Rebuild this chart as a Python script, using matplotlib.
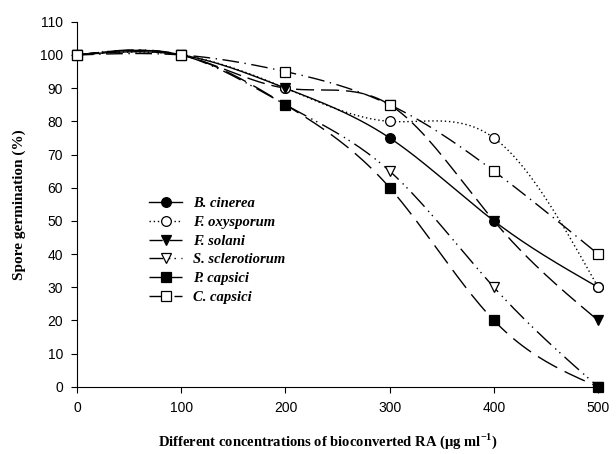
import numpy as np
import matplotlib
matplotlib.use("Agg")
import matplotlib.pyplot as plt

plt.rcParams["mathtext.fontset"] = "custom"
plt.rcParams["mathtext.rm"] = "Liberation Serif:bold"
plt.rcParams["mathtext.bf"] = "Liberation Serif:bold"

conc = [0, 100, 200, 300, 400, 500]
b_cinerea = [100, 100, 90, 75, 50, 30]
f_oxysporum = [100, 100, 90, 80, 75, 30]
f_solani = [100, 100, 90, 85, 50, 20]
s_sclerotiorum = [100, 100, 85, 65, 30, 0]
p_capsici = [100, 100, 85, 60, 20, 0]
c_capsici = [100, 100, 95, 85, 65, 40]

names = ["B. cinerea", "F. oxysporum", "F. solani", "S. sclerotiorum", "P. capsici", "C. capsici"]


def spline(x, y, n=200):
    # natural cubic spline, just for drawing the smooth line between markers
    x = np.asarray(x, float)
    y = np.asarray(y, float)
    k = len(x)
    h = np.diff(x)
    A = np.zeros((k, k))
    r = np.zeros(k)
    A[0, 0] = A[-1, -1] = 1
    for i in range(1, k - 1):
        A[i, i - 1] = h[i - 1]
        A[i, i] = 2 * (h[i - 1] + h[i])
        A[i, i + 1] = h[i]
        r[i] = 6 * ((y[i + 1] - y[i]) / h[i] - (y[i] - y[i - 1]) / h[i - 1])
    m = np.linalg.solve(A, r)
    xs = np.linspace(x[0], x[-1], n)
    idx = np.clip(np.searchsorted(x, xs) - 1, 0, k - 2)
    x0, x1 = x[idx], x[idx + 1]
    hh = x1 - x0
    a = (x1 - xs) / hh
    b = (xs - x0) / hh
    ys = a * y[idx] + b * y[idx + 1] + ((a**3 - a) * m[idx] + (b**3 - b) * m[idx + 1]) * hh**2 / 6
    return xs, ys


series = [b_cinerea, f_oxysporum, f_solani, s_sclerotiorum, p_capsici, c_capsici]
# ls for the curves, lls for the short legend handles
styles = [
    dict(marker="o", mfc="black", ls="-", lls="-"),
    dict(marker="o", mfc="white", ls=(0, (1, 2)), lls=(0, (1, 2))),
    dict(marker="v", mfc="black", ls=(0, (13, 5)), lls=(3.5, (13, 5))),
    dict(marker="v", mfc="white", ls=(0, (14, 4, 1, 3, 1, 4)), lls=(4, (14, 4, 1, 3, 1, 4))),
    dict(marker="s", mfc="black", ls=(0, (16, 6)), lls=(7, (16, 6))),
    dict(marker="s", mfc="white", ls=(0, (12, 4, 1, 4)), lls=(3, (12, 4, 1, 4))),
]

fig = plt.figure(figsize=(6.16, 4.54), dpi=100)
ax = fig.add_axes([0.125, 0.148, 0.846, 0.804])

handles = []
for name, vals, st in zip(names, series, styles):
    xs, ys = spline(conc, vals)
    ax.plot(xs, ys, color="black", lw=1.0, ls=st["ls"])
    ax.plot(conc, vals, ls="none", marker=st["marker"], ms=7, mfc=st["mfc"],
            mec="black", mew=0.9, clip_on=False, zorder=3)
    h, = ax.plot([], [], color="black", lw=1.0, ls=st["lls"], marker=st["marker"],
                 ms=7, mfc=st["mfc"], mec="black", mew=0.9, label=name)
    handles.append(h)

ax.set_xlim(0, 500)
ax.set_ylim(0, 110)
ax.set_xticks(conc)
ax.set_yticks(range(0, 111, 10))
ax.spines["top"].set_visible(False)
ax.spines["right"].set_visible(False)
ax.tick_params(direction="out", length=4, labelsize=10, pad=6)
for lab in ax.get_xticklabels() + ax.get_yticklabels():
    lab.set_fontfamily("Liberation Sans")

ax.set_xlabel("Different concentrations of bioconverted RA (\u03bcg ml$^{-1}$)",
              fontfamily="Liberation Serif", fontweight="bold", fontsize=10.5)
ax.xaxis.set_label_coords(0.481, -0.122)
ax.set_ylabel("Spore germination (%)", fontfamily="Liberation Serif",
              fontweight="bold", fontsize=11, labelpad=10)

leg = ax.legend(handles=handles, loc="upper left", bbox_to_anchor=(0.138, 0.52),
                frameon=False, handlelength=2.3, handletextpad=0.7, labelspacing=0.38,
                borderpad=0, borderaxespad=0,
                prop=dict(family="Liberation Serif", style="italic", weight="bold", size=10.5))

fig.savefig("out.png", dpi=100)
